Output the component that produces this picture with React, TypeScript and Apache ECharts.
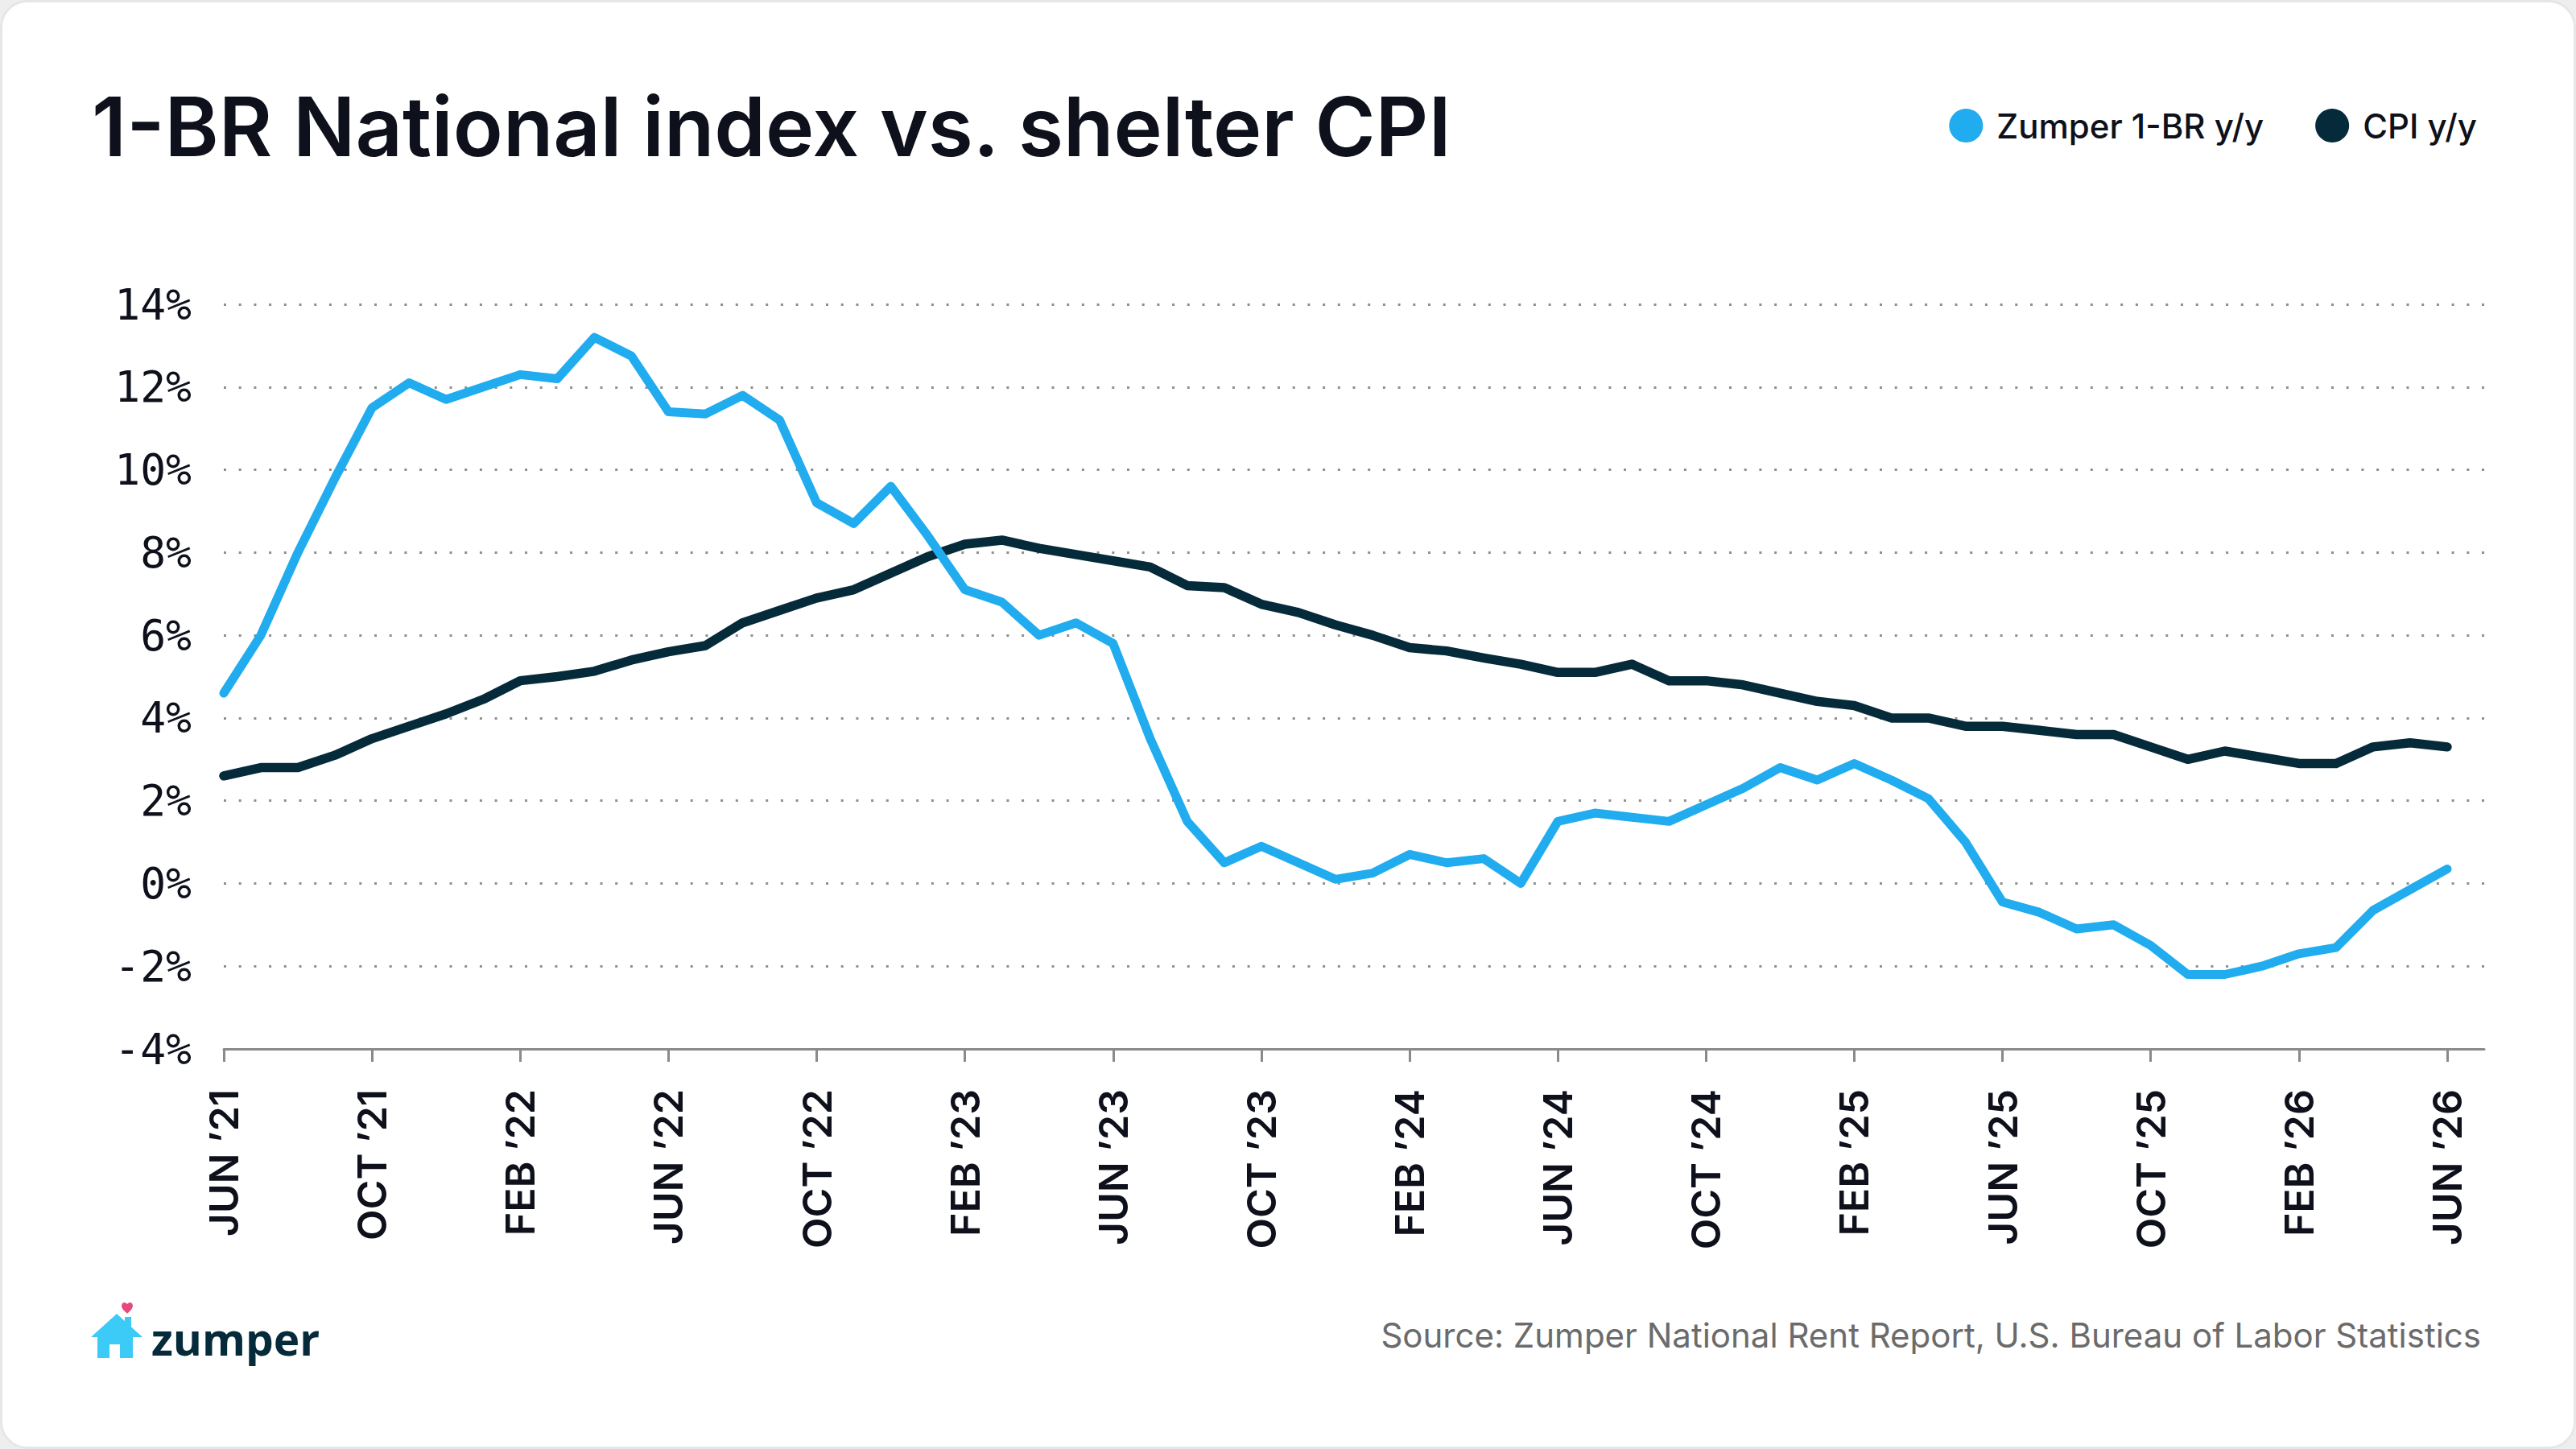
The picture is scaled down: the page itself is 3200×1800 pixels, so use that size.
import React, { useEffect, useRef } from 'react';
import * as echarts from 'echarts';

// month labels, Jun '21 .. Jul '26 (last slot is empty padding on the right)
const MONTHS = ['JAN', 'FEB', 'MAR', 'APR', 'MAY', 'JUN', 'JUL', 'AUG', 'SEP', 'OCT', 'NOV', 'DEC'];
const categories: string[] = [];
for (let i = 0; i < 62; i++) {
  const m = (5 + i) % 12;
  const y = 21 + Math.floor((5 + i) / 12);
  categories.push(`${MONTHS[m]} \u2019${y}`);
}

const zumper1br = [
  4.6, 6.0, 8.0, 9.8, 11.5, 12.1, 11.7, 12.0, 12.3, 12.2,
  13.2, 12.75, 11.4, 11.35, 11.8, 11.2, 9.2, 8.7, 9.6, 8.4,
  7.1, 6.8, 6.0, 6.3, 5.8, 3.5, 1.5, 0.5, 0.9, 0.5,
  0.1, 0.25, 0.7, 0.5, 0.6, 0.0, 1.5, 1.7, 1.6, 1.5,
  1.9, 2.3, 2.8, 2.5, 2.9, 2.5, 2.05, 1.0, -0.45, -0.7,
  -1.1, -1.0, -1.5, -2.2, -2.2, -2.0, -1.7, -1.55, -0.65, -0.15,
  0.35
];

const cpi = [
  2.6, 2.8, 2.8, 3.1, 3.5, 3.8, 4.1, 4.45, 4.9, 5.0,
  5.13, 5.4, 5.6, 5.75, 6.3, 6.6, 6.9, 7.1, 7.5, 7.9,
  8.2, 8.3, 8.1, 7.95, 7.8, 7.65, 7.2, 7.15, 6.75, 6.55,
  6.25, 6.0, 5.7, 5.62, 5.45, 5.3, 5.1, 5.1, 5.3, 4.9,
  4.9, 4.8, 4.6, 4.4, 4.3, 4.0, 4.0, 3.8, 3.8, 3.7,
  3.6, 3.6, 3.3, 3.0, 3.2, 3.05, 2.9, 2.9, 3.3, 3.4,
  3.3
];

const BLUE = '#20acee';
const NAVY = '#052a3a';
const INK = '#0e111b';

echarts.graphic.registerShape(
  'heart',
  echarts.graphic.extendPath('M7 13 C3 10 0 7 0 4 C0 1.5 1.8 0 3.6 0 C5 0 6.3 0.9 7 2.2 C7.7 0.9 9 0 10.4 0 C12.2 0 14 1.5 14 4 C14 7 11 10 7 13 Z', {})
);

const App: React.FC = () => {
  const chartRef = useRef<HTMLDivElement>(null);

  useEffect(() => {
    if (!chartRef.current) return;
    const chart = echarts.init(chartRef.current, null, { renderer: 'svg' });

    const option: echarts.EChartsOption = {
      animation: false,
      backgroundColor: 'transparent',
      grid: { left: 278, right: 114, top: 378, bottom: 497 },
      legend: {
        data: ['Zumper 1-BR y/y', 'CPI y/y'],
        right: 118,
        top: 130,
        icon: 'circle',
        itemWidth: 42,
        itemHeight: 42,
        itemGap: 64,
        textStyle: {
          fontFamily: 'Inter',
          fontSize: 42,
          fontWeight: 500,
          color: INK,
          padding: [0, 0, 0, 12]
        }
      },
      xAxis: {
        type: 'category',
        data: categories,
        boundaryGap: false,
        axisLine: { onZero: false, lineStyle: { color: '#8a8a8a', width: 3 } },
        axisTick: {
          interval: (i: number) => i % 4 === 0,
          length: 16,
          lineStyle: { color: '#8a8a8a', width: 3 }
        },
        axisLabel: {
          interval: (i: number) => i % 4 === 0,
          rotate: 90,
          margin: 50,
          fontFamily: 'Inter',
          fontSize: 50,
          fontWeight: 600,
          color: INK
        },
        splitLine: { show: false }
      },
      yAxis: {
        type: 'value',
        min: -4,
        max: 14,
        interval: 2,
        axisLine: { show: false },
        axisTick: { show: false },
        axisLabel: {
          margin: 40,
          fontFamily: 'DejaVu Sans Mono',
          fontSize: 53,
          color: INK,
          formatter: (v: number) => `${v}%`
        },
        splitLine: {
          lineStyle: { color: '#8f8f8f', width: 3, type: [3, 15.7] }
        }
      },
      graphic: [
        {
          type: 'text',
          x: 114,
          y: 157,
          style: {
            text: '1-BR National index vs. shelter CPI',
            fill: INK,
            font: '600 102px Inter',
            align: 'left',
            verticalAlign: 'middle',
            textAlign: 'left',
            textVerticalAlign: 'middle'
          } as any
        },
        {
          type: 'text',
          x: 3082,
          y: 1658,
          style: {
            text: 'Source: Zumper National Rent Report, U.S. Bureau of Labor Statistics',
            fill: '#6b6b6b',
            font: '400 42px Inter',
            align: 'right',
            verticalAlign: 'middle',
            textAlign: 'right',
            textVerticalAlign: 'middle'
          } as any
        },
        // zumper logo
        {
          type: 'polygon',
          shape: {
            points: [[113, 1661], [145, 1632], [177, 1661], [165, 1661], [165, 1687], [121, 1687], [121, 1661]]
          },
          style: { fill: '#3ccaf7' }
        },
        { type: 'rect', shape: { x: 155, y: 1636, width: 8, height: 18 }, style: { fill: '#3ccaf7' } },
        { type: 'rect', shape: { x: 136, y: 1670, width: 13, height: 17 }, style: { fill: '#ffffff' } },
        { type: 'heart', x: 151, y: 1618, scaleX: 1, scaleY: 1.05, style: { fill: '#e8497d' } } as any,
        {
          type: 'text',
          x: 188,
          y: 1662,
          style: {
            text: 'zumper',
            fill: NAVY,
            font: '700 55px "Open Sans"',
            align: 'left',
            verticalAlign: 'middle',
            textAlign: 'left',
            textVerticalAlign: 'middle'
          } as any
        }
      ],
      series: [
        {
          name: 'CPI y/y',
          type: 'line',
          data: cpi,
          showSymbol: false,
          symbol: 'none',
          itemStyle: { color: NAVY },
          lineStyle: { color: NAVY, width: 11.5, cap: 'round', join: 'round' },
          z: 2
        },
        {
          name: 'Zumper 1-BR y/y',
          type: 'line',
          data: zumper1br,
          showSymbol: false,
          symbol: 'none',
          itemStyle: { color: BLUE },
          lineStyle: { color: BLUE, width: 11, cap: 'round', join: 'round' },
          z: 3
        }
      ]
    };

    chart.setOption(option);
    return () => {
      chart.dispose();
    };
  }, []);

  return (
    <div style={{ position: 'fixed', left: 0, top: 0, width: 3200, height: 1800, background: '#eeeeee' }}>
      <div
        style={{
          position: 'absolute',
          inset: 0,
          background: '#ffffff',
          border: '3px solid #e6e6e6',
          borderRadius: 34,
          boxSizing: 'border-box',
          overflow: 'hidden'
        }}
      >
        <div ref={chartRef} style={{ position: 'absolute', left: -3, top: -3, width: 3200, height: 1800 }} />
      </div>
    </div>
  );
};

export default App;
